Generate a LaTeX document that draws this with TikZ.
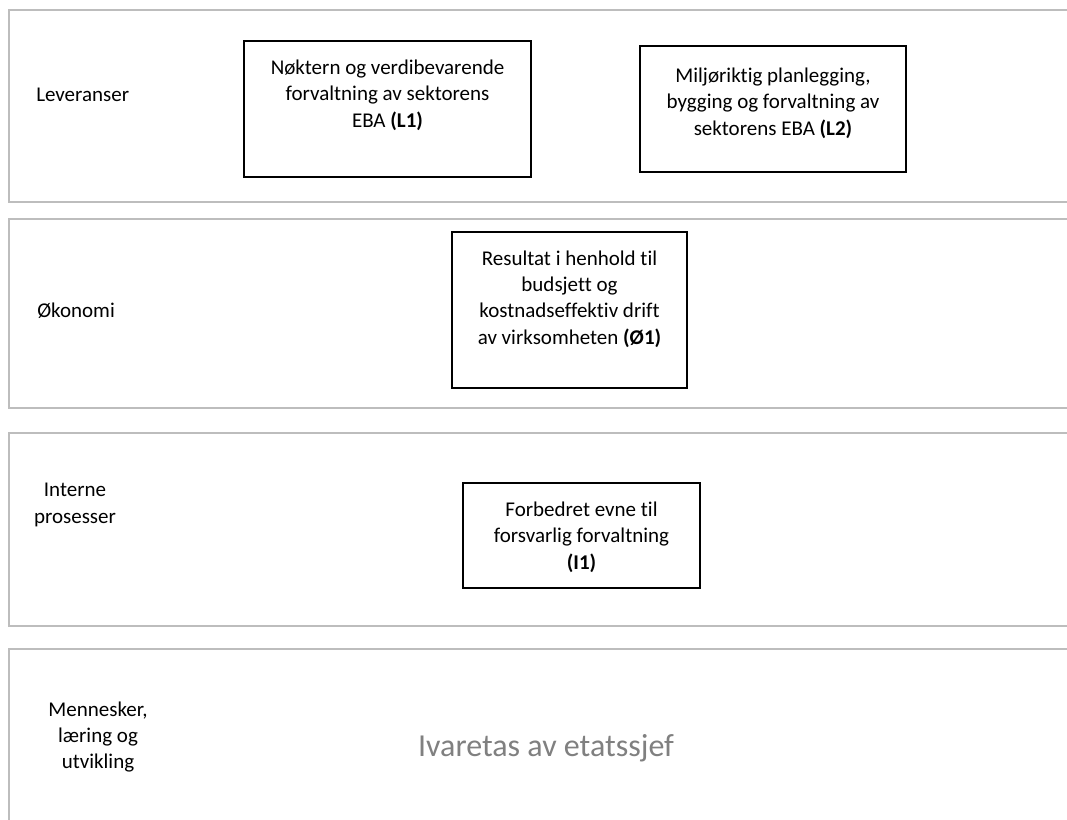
\documentclass[tikz,border=0pt]{standalone}
\usepackage{fontspec}
\setmainfont{Carlito}[Ligatures=NoCommon]
\begin{document}
\begin{tikzpicture}[x=0.75pt,y=-0.75pt,
  panel/.style={draw=black!26,line width=1.1pt},
  obox/.style={draw=black,line width=2.2pt,inner sep=0pt},
  btext/.style={align=center,inner sep=0pt,font=\fontsize{15.75}{19.8}\selectfont},
  lbl/.style={align=center,inner sep=0pt,font=\fontsize{15.75}{19.8}\selectfont},
  big/.style={inner sep=0pt,text=black!50,font=\fontsize{24}{28}\selectfont}]
\useasboundingbox (0,0) rectangle (1067,820);
\clip (0,0) rectangle (1067,820);
\fill[white] (0,0) rectangle (1067,820);
% panels
\draw[panel] (9,10) rectangle (1090,202);
\draw[panel] (9,219) rectangle (1090,408);
\draw[panel] (9,433) rectangle (1090,626);
\draw[panel] (9,649) rectangle (1090,840);
% row labels
\node[lbl,anchor=west] (lev) at (36,95) {Leveranser};
\node[lbl,anchor=west] (oko) at (37,311) {Økonomi};
\node[lbl] (int) at (75,505) {Interne\\prosesser};
\node[lbl] (men) at (98,737) {Mennesker,\\læring og\\utvikling};
% boxes
\node[obox,minimum width=215.25pt,minimum height=102pt] (L1) at (387.5,109) {};
\node[btext] (L1t) at (387.5,95) {Nøktern og verdibevarende\\forvaltning av sektorens\\EBA \textbf{(L1)}};
\node[obox,minimum width=199.5pt,minimum height=94.5pt] (L2) at (773,109) {};
\node[btext] (L2t) at (773,103) {Miljøriktig planlegging,\\bygging og forvaltning av\\sektorens EBA \textbf{(L2)}};
\node[obox,minimum width=176.25pt,minimum height=117pt] (O1) at (569.5,310) {};
\node[btext] (O1t) at (569.5,299) {Resultat i henhold til\\budsjett og\\kostnadseffektiv drift\\av virksomheten \textbf{(Ø1)}};
\node[obox,minimum width=177.75pt,minimum height=78.75pt] (I1) at (581.5,535.5) {};
\node[btext] (I1t) at (581.5,537) {Forbedret evne til\\forsvarlig forvaltning\\\textbf{(I1)}};
% bottom text
\node[big] (iva) at (546,748) {Ivaretas av etatssjef};
\end{tikzpicture}
\end{document}
